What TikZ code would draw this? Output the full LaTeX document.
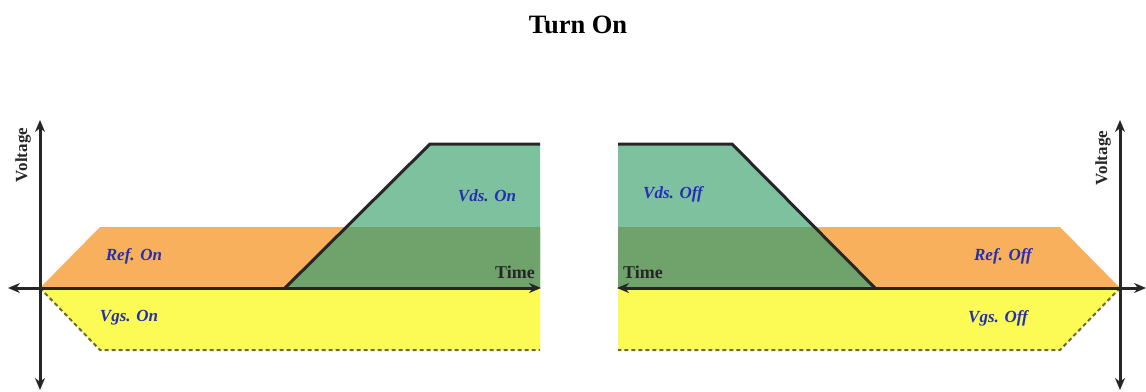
\documentclass[tikz,border=0pt]{standalone}
\usepackage{fontspec}
\setmainfont{Liberation Serif}
\usetikzlibrary{arrows.meta}
\definecolor{orng}{HTML}{F8B05C}
\definecolor{yel}{HTML}{FCFA55}
\definecolor{grnA}{HTML}{7EC19F}
\definecolor{grnB}{HTML}{70A26C}
\definecolor{lbl}{HTML}{2430B0}
\definecolor{dash}{HTML}{6E6A30}
\tikzset{
  axis/.style={line width=3pt, draw=black!85, -{Stealth[length=12pt,width=10pt]}},
  edge/.style={line width=3pt, draw=black!85},
  dashedge/.style={line width=2pt, draw=dash, dash pattern=on 4pt off 3pt},
  lab/.style={font=\fontsize{17}{19}\selectfont\bfseries\itshape, text=lbl, inner sep=0pt},
  axlab/.style={font=\fontsize{18}{20}\selectfont\bfseries, text=black!85, inner sep=0pt},
}
\begin{document}
\begin{tikzpicture}[x=1pt,y=-1pt]
\useasboundingbox (0,0) rectangle (1146,391);
% title
\node[font=\fontsize{26.5}{30}\selectfont\bfseries, inner sep=0pt] (title) at (578,25) {Turn On};
% ---------- left diagram ----------
\fill[orng] (40,288) -- (100,227) -- (540,227) -- (540,288) -- cycle;
\fill[yel] (40,288) -- (100,350) -- (540,350) -- (540,288) -- cycle;
\fill[grnA] (285,288) -- (430,144) -- (540,144) -- (540,288) -- cycle;
\fill[grnB] (285,288) -- (346,227) -- (540,227) -- (540,288) -- cycle;
\draw[edge] (285,288) -- (430,144) -- (540,144);
\draw[dashedge] (40,288) -- (100,350) -- (540,350);
\coordinate (lyt) at (40,120);
\coordinate (lyb) at (40,390);
\coordinate (lxl) at (8,288);
\coordinate (lxr) at (541,288);
\coordinate (lo) at (40,288);
\draw[axis] (lo) -- (lyt);
\draw[axis] (lo) -- (lyb);
\draw[axis] (lo) -- (lxl);
\draw[axis] (lo) -- (lxr);
\node[axlab, rotate=90, font=\fontsize{17}{19}\selectfont\bfseries] (lvolt) at (23,155) {Voltage};
\node[axlab] (ltime) at (515,272) {Time};
\node[lab] (refon) at (134,256) {Ref. On};
\node[lab] (vgson) at (129,318) {Vgs. On};
\node[lab] (vdson) at (487,196) {Vds. On};
% ---------- right diagram ----------
\fill[orng] (618,227) -- (1060,227) -- (1120,288) -- (618,288) -- cycle;
\fill[yel] (618,288) -- (1120,288) -- (1060,350) -- (618,350) -- cycle;
\fill[grnA] (618,144) -- (732,144) -- (875,288) -- (618,288) -- cycle;
\fill[grnB] (618,227) -- (814,227) -- (875,288) -- (618,288) -- cycle;
\draw[edge] (618,144) -- (732,144) -- (875,288);
\draw[dashedge] (1120,288) -- (1060,350) -- (618,350);
\coordinate (ro) at (1120,288);
\coordinate (ryt) at (1120,120);
\coordinate (ryb) at (1120,390);
\coordinate (rxl) at (617,288);
\coordinate (rxr) at (1146,288);
\draw[axis] (ro) -- (ryt);
\draw[axis] (ro) -- (ryb);
\draw[axis] (ro) -- (rxl);
\draw[axis] (ro) -- (rxr);
\node[axlab, rotate=90, font=\fontsize{17}{19}\selectfont\bfseries] (rvolt) at (1103,158) {Voltage};
\node[axlab] (rtime) at (643,272) {Time};
\node[lab] (vdsoff) at (673,194) {Vds. Off};
\node[lab] (refoff) at (1003,256) {Ref. Off};
\node[lab] (vgsoff) at (998,318) {Vgs. Off};
\end{tikzpicture}
\end{document}
